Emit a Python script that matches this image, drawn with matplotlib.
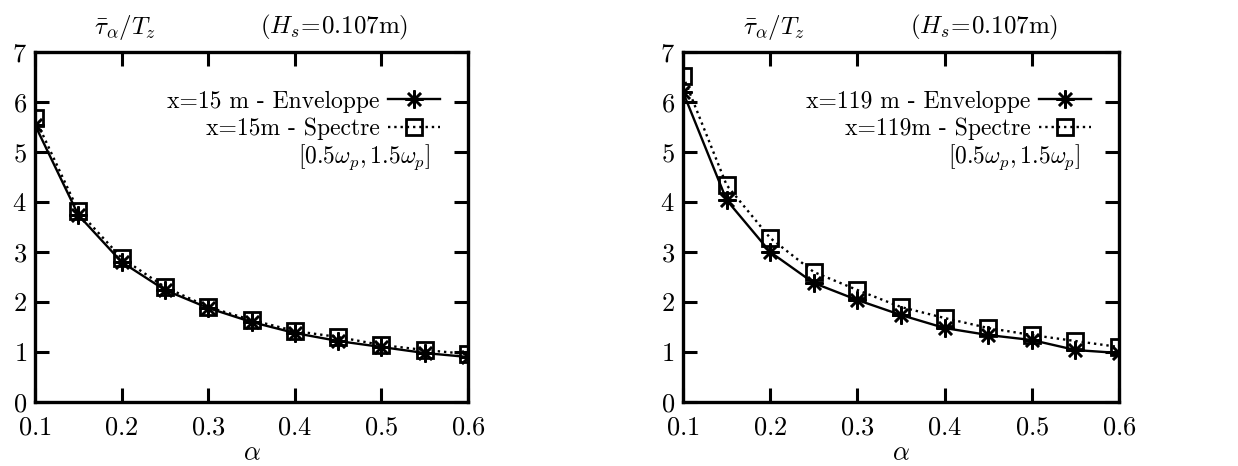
import numpy as np
import matplotlib
matplotlib.use('Agg')
import matplotlib.pyplot as plt

plt.rcParams['font.family'] = 'serif'
plt.rcParams['font.serif'] = ['cmr10']
plt.rcParams['mathtext.fontset'] = 'cm'
plt.rcParams['axes.formatter.use_mathtext'] = True

alpha = [0.1, 0.15, 0.2, 0.25, 0.3, 0.35, 0.4, 0.45, 0.5, 0.55, 0.6]

# x = 15 m
env_15 = [5.54, 3.74, 2.8, 2.24, 1.88, 1.6, 1.38, 1.22, 1.1, 0.98, 0.9]
spec_15 = [5.68, 3.82, 2.88, 2.3, 1.9, 1.64, 1.42, 1.3, 1.14, 1.04, 0.96]

# x = 119 m
env_119 = [6.2, 4.04, 3.0, 2.38, 2.04, 1.74, 1.48, 1.34, 1.24, 1.04, 0.98]
spec_119 = [6.52, 4.34, 3.28, 2.6, 2.24, 1.9, 1.68, 1.48, 1.34, 1.22, 1.1]

panels = [
    ('x=15 m - Enveloppe', 'x=15m - Spectre', env_15, spec_15),
    ('x=119 m - Enveloppe', 'x=119m - Spectre', env_119, spec_119),
]

fig = plt.figure(figsize=(12.38, 4.66), dpi=100)
boxes = [[0.0283, 0.1373, 0.3498, 0.751], [0.5517, 0.1373, 0.3522, 0.751]]

star = (8, 2, 0)

for box, (lab_env, lab_spec, env, spec) in zip(boxes, panels):
    ax = fig.add_axes(box)
    ax.plot(alpha, env, '-', color='black', lw=1.7, marker=star,
            markersize=13, markeredgewidth=1.8, label=lab_env)
    ax.plot(alpha, spec, ':', color='black', lw=1.7, marker='s',
            markersize=11, markerfacecolor='none', markeredgewidth=2,
            label=lab_spec)
    ax.set_xlim(0.1, 0.6)
    ax.set_ylim(0, 7)
    ax.set_xticks([0.1, 0.2, 0.3, 0.4, 0.5, 0.6])
    ax.set_yticks(range(8))
    ax.tick_params(direction='in', length=10, width=2.2, top=True, right=True,
                   labelsize=19)
    ax.tick_params(axis='y', pad=6)
    ax.tick_params(axis='x', pad=10)
    for s in ax.spines.values():
        s.set_linewidth(2.4)
    ax.set_xlabel(r'$\alpha$', fontsize=19, labelpad=1)

    ax.legend(loc='upper right', bbox_to_anchor=(0.935, 0.89),
              frameon=False, markerfirst=False, fontsize=17,
              handlelength=2.2, handletextpad=0.35, labelspacing=0.2,
              borderaxespad=0, borderpad=0)
    ax.text(0.912, 0.70, r'$[0.5\omega_p,1.5\omega_p]$', transform=ax.transAxes,
            ha='right', va='center', fontsize=17)

    ax.text(0.208, 1.069, r'$\bar{\tau}_\alpha/T_z$', transform=ax.transAxes,
            ha='center', va='center', fontsize=18)
    ax.text(0.69, 1.069, r'$(H_s\!=\!0.107\mathrm{m})$', transform=ax.transAxes,
            ha='center', va='center', fontsize=18)

fig.savefig('out.png', dpi=100)
